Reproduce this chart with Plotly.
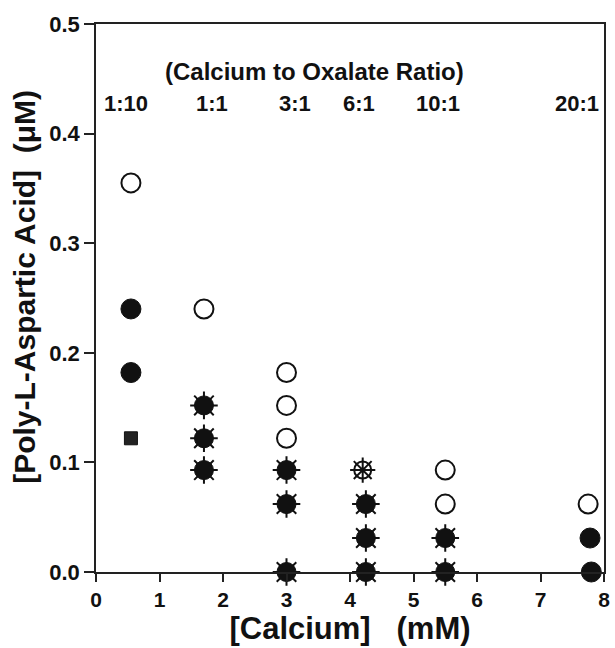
import plotly.graph_objects as go

# Open circles
open_x = [0.55, 1.7, 3.0, 3.0, 3.0, 5.5, 5.5, 7.75]
open_y = [0.355, 0.24, 0.182, 0.152, 0.122, 0.093, 0.062, 0.062]
# Filled circles
fill_x = [0.55, 0.55, 7.78, 7.8]
fill_y = [0.24, 0.182, 0.031, 0.0]
# Filled square
sq_x = [0.55]
sq_y = [0.122]
# Filled starbursts
star_x = [1.7, 1.7, 1.7, 3.0, 3.0, 3.0, 4.25, 4.25, 4.25, 5.5, 5.5]
star_y = [0.152, 0.122, 0.093, 0.093, 0.062, 0.0, 0.062, 0.031, 0.0, 0.031, 0.0]
# Open starburst
ostar_x = [4.2]
ostar_y = [0.093]

ratio_labels = ["1:10", "1:1", "3:1", "6:1", "10:1", "20:1"]
ratio_pos = [0.47, 1.82, 3.13, 4.14, 5.38, 7.57]
y_ticks = [0, 0.1, 0.2, 0.3, 0.4, 0.5]
x_ticks = [0, 1, 2, 3, 4, 5, 6, 7, 8]

FONT = "Liberation Sans, Arial, Helvetica, sans-serif"
INK = "#111"
L, R = 96, 5
PW = 615 - L - R

fig = go.Figure()
fig.add_trace(go.Scatter(x=open_x, y=open_y, mode="markers", cliponaxis=False,
                         marker=dict(symbol="circle", size=19, color="white",
                                     line=dict(color=INK, width=2))))
fig.add_trace(go.Scatter(x=fill_x, y=fill_y, mode="markers", cliponaxis=False,
                         marker=dict(symbol="circle", size=20, color=INK,
                                     line=dict(color=INK, width=1))))
fig.add_trace(go.Scatter(x=sq_x, y=sq_y, mode="markers", cliponaxis=False,
                         marker=dict(symbol="square", size=13, color="#222",
                                     line=dict(color=INK, width=1))))
fig.add_trace(go.Scatter(x=star_x, y=star_y, mode="markers", cliponaxis=False,
                         marker=dict(symbol="asterisk-open", size=23, color=INK,
                                     line=dict(color=INK, width=2))))
fig.add_trace(go.Scatter(x=star_x, y=star_y, mode="markers", cliponaxis=False,
                         marker=dict(symbol="circle", size=19, color=INK,
                                     line=dict(color=INK, width=1))))
fig.add_trace(go.Scatter(x=ostar_x, y=ostar_y, mode="markers", cliponaxis=False,
                         marker=dict(symbol="asterisk-open", size=21, color=INK,
                                     line=dict(color=INK, width=2))))
fig.add_trace(go.Scatter(x=ostar_x, y=ostar_y, mode="markers", cliponaxis=False,
                         marker=dict(symbol="circle-open", size=17, color=INK,
                                     line=dict(color=INK, width=2))))

annotations = [dict(x=(317 - L) / PW, y=0.5, xref="paper", yref="y",
                    text="<b>(Calcium to Oxalate Ratio)</b>", showarrow=False,
                    font=dict(family=FONT, size=24, color=INK),
                    yshift=-47)]
for lab, xp in zip(ratio_labels, ratio_pos):
    annotations.append(dict(x=xp, y=0.5, xref="x", yref="y", text=f"<b>{lab}</b>",
                            showarrow=False, yshift=-79,
                            font=dict(family=FONT, size=22, color=INK)))
# y-axis title as rotated annotation
annotations.append(dict(x=(23 - L) / PW, y=0.5, xref="paper", yref="paper",
                        xanchor="center", yanchor="middle",
                        text="<b>[Poly-L-Aspartic Acid]  (μM)</b>", textangle=-90,
                        showarrow=False, yshift=11,
                        font=dict(family=FONT, size=30, color=INK)))

fig.update_layout(
    width=615, height=648,
    margin=dict(l=L, r=R, t=24, b=76),
    paper_bgcolor="white", plot_bgcolor="white",
    showlegend=False,
    annotations=annotations,
    font=dict(family=FONT, color=INK),
    xaxis=dict(range=[0, 8], tickvals=x_ticks,
               ticktext=[f"<b>{v}</b>" for v in x_ticks],
               ticks="outside", ticklen=8,
               tickwidth=1.5, tickcolor="#222", showgrid=False, zeroline=False,
               showline=True, linecolor="#222", linewidth=1.5, mirror=True,
               tickfont=dict(family=FONT, size=21, color=INK),
               title=dict(text="<b>[Calcium]   (mM)</b>", standoff=2,
                          font=dict(family=FONT, size=31, color=INK))),
    yaxis=dict(range=[0, 0.5], tickvals=y_ticks,
               ticktext=[f"<b>{v:.1f}</b>" for v in y_ticks],
               ticks="outside", ticklen=10, tickwidth=1.5, tickcolor="#222",
               showgrid=False, zeroline=False, showline=True, linecolor="#222",
               linewidth=1.5, mirror=True,
               tickfont=dict(family=FONT, size=22, color=INK)),
)

fig.write_html("out.html")
